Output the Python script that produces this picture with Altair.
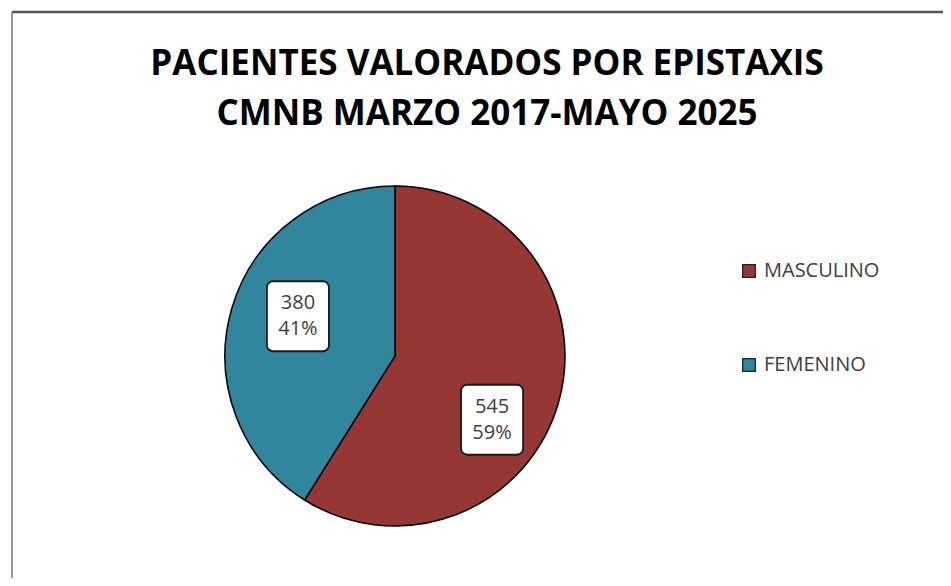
import math
import altair as alt
import pandas as pd

# ---- data ----
categories = ["MASCULINO", "FEMENINO"]
values = [545, 380]
colors = ["#953735", "#31859C"]
title_lines = ["PACIENTES VALORADOS POR EPISTAXIS", "CMNB MARZO 2017-MAYO 2025"]

# ---- layout / style ----
W, H = 935, 570
CX, CY, R = 387, 348, 170
LABEL_R = 110
LABEL_SHIFT = 12  # degrees, label placement offset
LABEL_DY = 12     # px, label placement offset
BOX_W, BOX_H = 62, 70
LINE_H = 26
FONT = "Open Sans"

total = sum(values)
rows = []
cum = 0
for i, (c, v) in enumerate(zip(categories, values)):
    mid = (cum + v / 2) / total * 360 + LABEL_SHIFT
    cum += v
    a = math.radians(mid)
    lx = CX + LABEL_R * math.sin(a)
    ly = CY - LABEL_R * math.cos(a) + LABEL_DY
    pct = round(v / total * 100)
    rows.append(dict(cat=c, val=v, order=i, label=f"{v}\n{pct}%",
                     lx=lx, ty=ly - LINE_H / 2,
                     bx=lx - BOX_W / 2, bx2=lx + BOX_W / 2,
                     by=ly - BOX_H / 2, by2=ly + BOX_H / 2))
df = pd.DataFrame(rows)
one = pd.DataFrame({"k": [0]})
tdf = pd.DataFrame({"t": ["\n".join(title_lines)]})

border_top = alt.Chart(one).mark_rule(color="#555555", strokeWidth=2.5).encode(
    x=alt.value(4), x2=alt.value(W), y=alt.value(4))
border_left = alt.Chart(one).mark_rule(color="#777777", strokeWidth=1.5).encode(
    x=alt.value(4), y=alt.value(4), y2=alt.value(H))

title = alt.Chart(tdf).mark_text(font=FONT, fontSize=35, fontWeight="bold", color="#000000",
                                 lineBreak="\n", lineHeight=50, baseline="middle",
                                 align="center").encode(
    x=alt.value(479), y=alt.value(56), text="t:N")

pie = alt.Chart(df).mark_arc(outerRadius=R, stroke="#000000", strokeWidth=1.5).encode(
    theta=alt.Theta("val:Q", stack=True),
    order=alt.Order("order:Q"),
    color=alt.Color("cat:N", scale=alt.Scale(domain=categories, range=colors),
                    legend=alt.Legend(title=None, orient="none", legendX=731, legendY=253,
                                      symbolType="square", symbolSize=160,
                                      symbolStrokeColor="#222222", symbolStrokeWidth=1.3,
                                      labelFont=FONT, labelFontSize=20, labelColor="#404040",
                                      rowPadding=74, labelOffset=5)),
    x=alt.value(CX), y=alt.value(CY))

boxes = alt.Chart(df).mark_rect(fill="white", stroke="#1a1a1a", strokeWidth=1.8,
                                cornerRadius=6).encode(
    x=alt.X("bx:Q", scale=None, axis=None), x2="bx2:Q",
    y=alt.Y("by:Q", scale=None, axis=None), y2="by2:Q")

labels = alt.Chart(df).mark_text(font=FONT, fontSize=20, color="#404040", lineBreak="\n",
                                 lineHeight=LINE_H, baseline="middle", align="center").encode(
    x=alt.X("lx:Q", scale=None, axis=None),
    y=alt.Y("ty:Q", scale=None, axis=None),
    text="label:N")

chart = alt.layer(border_top, border_left, title, pie, boxes, labels).properties(
    width=W, height=H, padding=0, autosize="none", background="white"
).configure_view(stroke=None)

chart.save("out.html", embed_options={"renderer": "svg", "actions": False})
